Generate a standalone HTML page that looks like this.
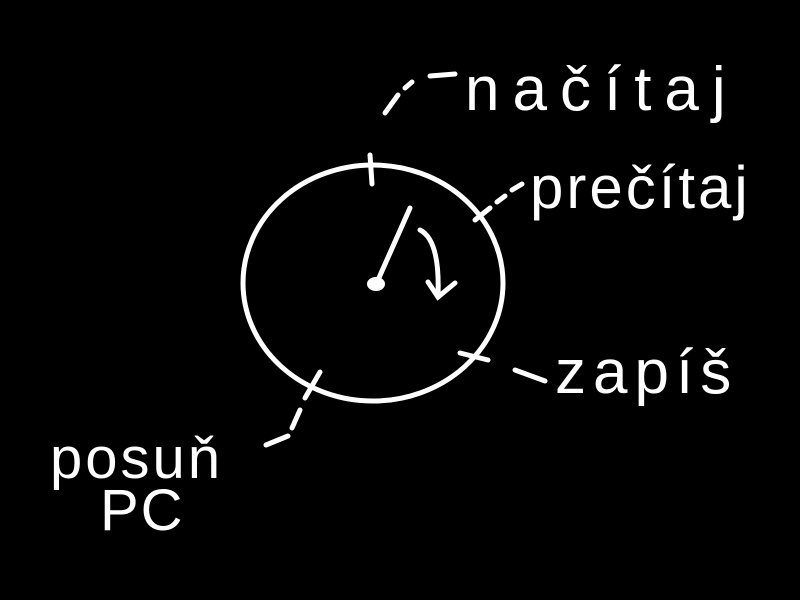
<!DOCTYPE html>
<html><head><meta charset="utf-8"><style>
html,body{margin:0;padding:0;background:#000;width:800px;height:600px;overflow:hidden}
svg{display:block}
text{font-family:"Liberation Sans",sans-serif;fill:#fff}
</style></head><body>
<svg width="800" height="600" viewBox="0 0 800 600">
<rect width="800" height="600" fill="#000"/>
<g fill="none" stroke="#fff" stroke-width="5" stroke-linecap="round">
<ellipse cx="373" cy="283" rx="130" ry="118"/>
<path d="M370 155 L372 184"/>
<path d="M385 113 L398 95 M405 88 L412 82 M430 76 L455 74"/>
<path d="M475 220 L490 208 M497 202 L505 196 M512 190 L522 184"/>
<path d="M460 353 L488 360"/>
<path d="M515 370 L545 381"/>
<path d="M320 372 L305 398"/>
<path d="M300 410 L292 428 M288 436 L266 445"/>
<path d="M410 208 L378 280"/>
<path d="M420 230 Q440 240 438 295 M428 282 L438 297 L455 283"/>
</g>
<ellipse cx="376" cy="284" rx="9" ry="7" fill="#fff"/>
<text x="465" y="110" font-size="62" letter-spacing="13">načítaj</text>
<text x="530" y="208" font-size="60" letter-spacing="3">prečítaj</text>
<text x="555" y="393" font-size="62" letter-spacing="7">zapíš</text>
<text x="50" y="478" font-size="58" letter-spacing="3">posuň</text>
<text x="100" y="530" font-size="58" letter-spacing="2">PC</text>
</svg>
</body></html>
